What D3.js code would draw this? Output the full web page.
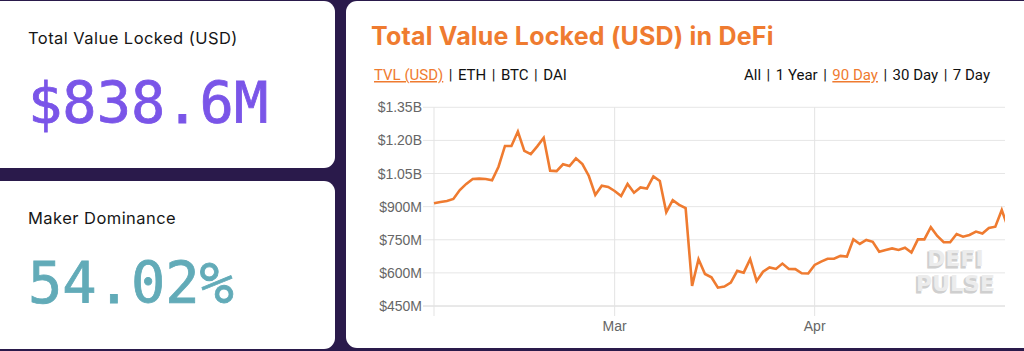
<!DOCTYPE html>
<html><head><meta charset="utf-8">
<script src="https://cdn.jsdelivr.net/npm/d3@7"></script>
<style>
html,body{margin:0;padding:0;background:#2a1a4b;}
svg{display:block;}
</style></head>
<body>
<svg id="c" width="1024" height="351"></svg>
<script>
// ---- data ----
const startDate = "2020-02-02";
const tvlValues = [915,921,926,935,975,1003,1025,1027,1025,1019,
  1081,1175,1175,1240,1153,1138,1173,1212,1063,1061,
  1092,1084,1119,1093,1039,953,995,989,971,948,
  1003,963,987,982,1037,1016,875,929,908,893,
  541,662,595,580,533,538,556,609,601,662,
  563,605,625,618,642,618,617,598,597,636,
  651,664,664,677,674,752,731,749,741,696,
  704,711,704,714,692,752,752,807,767,739,
  739,776,764,772,787,778,803,809,885,803];
const yTicks = [450,600,750,900,1050,1200,1350];
const yTickLabels = ["$450M","$600M","$750M","$900M","$1.05B","$1.20B","$1.35B"];
const xTickDates = ["2020-03-01","2020-04-01"];
const xTickLabels = ["Mar","Apr"];
const tvlHeadline = "$838.6M";
const makerDominance = "54.02%";
const dataLinks = ["TVL (USD)","ETH","BTC","DAI"];
const rangeLinks = ["All","1 Year","90 Day","30 Day","7 Day"];
const activeLink = "TVL (USD)", activeRange = "90 Day";

const parse = d3.utcParse("%Y-%m-%d");
const d0 = parse(startDate);
const series = tvlValues.map((v,i)=>({date:d3.utcDay.offset(d0,i), v}));

const orange = "#ef7b30";
const svg = d3.select("#c");

// ---- cards ----
svg.append("rect").attr("x",-20).attr("y",1).attr("width",355).attr("height",167).attr("rx",11).attr("fill","#fff");
svg.append("rect").attr("x",-20).attr("y",181).attr("width",355).attr("height",168).attr("rx",11).attr("fill","#fff");
svg.append("rect").attr("x",346).attr("y",1).attr("width",700).attr("height",347).attr("rx",11).attr("fill","#fff");

// left card texts
svg.append("text").attr("x",28).attr("y",44).attr("font-family","Inter, sans-serif").attr("font-size",16.5).attr("letter-spacing",0.45).attr("fill","#161616").text("Total Value Locked (USD)");
svg.append("text").attr("x",28).attr("y",123).attr("font-family","'DejaVu Sans Mono', monospace").attr("font-size",57).attr("fill","#7a55e8").attr("stroke","#7a55e8").attr("stroke-width",0.8).text(tvlHeadline);
svg.append("text").attr("x",28).attr("y",224).attr("font-family","Inter, sans-serif").attr("font-size",16.5).attr("letter-spacing",0.45).attr("fill","#161616").text("Maker Dominance");
svg.append("text").attr("x",28).attr("y",303).attr("font-family","'DejaVu Sans Mono', monospace").attr("font-size",57).attr("fill","#62abb8").attr("stroke","#62abb8").attr("stroke-width",0.8).text(makerDominance);

// title
svg.append("text").attr("x",371).attr("y",45).attr("font-family","Inter, sans-serif").attr("font-weight",700).attr("font-size",25).attr("letter-spacing",0.2).attr("fill",orange).text("Total Value Locked (USD) in DeFi");

// link rows
function linkRow(items, active, x, anchor){
  const t = svg.append("text").attr("x",x).attr("y",80).attr("font-family","Roboto, sans-serif").attr("font-size",15).attr("text-anchor",anchor).attr("fill","#111");
  items.forEach((s,i)=>{
    if(i>0) t.append("tspan").attr("dx",5.5).text("|");
    const sp = t.append("tspan").attr("dx",i>0?5.5:0).text(s);
    if(s===active) sp.attr("fill",orange).attr("text-decoration","underline");
  });
}
linkRow(dataLinks, activeLink, 374, "start");
linkRow(rangeLinks, activeRange, 990, "end");

// ---- chart ----
const L=434, R=1005, T=107.3, B=306;
const x = d3.scaleTime().domain([d0, d3.utcHour.offset(d3.utcDay.offset(d0,88),12)]).range([L,R]);
const y = d3.scaleLinear().domain([450,1350]).range([B,T]);

const g = svg.append("g");
g.selectAll(".hg").data(yTicks).join("line")
  .attr("x1",L-11).attr("x2",R).attr("y1",d=>y(d)).attr("y2",d=>y(d))
  .attr("stroke",d=>d===450?"#d2d2d2":"#e6e6e6").attr("stroke-width",1);
g.selectAll(".yl").data(yTicks).join("text")
  .attr("x",L-12).attr("y",d=>y(d)).attr("dy","0.36em").attr("text-anchor","end")
  .attr("font-family","'Liberation Sans', Arial, sans-serif").attr("font-size",14).attr("fill","#666")
  .text((d,i)=>yTickLabels[i]);
const xt = xTickDates.map(parse);
g.append("line").attr("x1",L).attr("x2",L).attr("y1",T).attr("y2",B+10).attr("stroke","#e3e3e3");
g.selectAll(".vg").data(xt).join("line")
  .attr("x1",d=>x(d)).attr("x2",d=>x(d)).attr("y1",T).attr("y2",B+10)
  .attr("stroke","#e3e3e3");
g.selectAll(".xl").data(xt).join("text")
  .attr("x",d=>x(d)).attr("y",330.5).attr("text-anchor","middle")
  .attr("font-family","'Liberation Sans', Arial, sans-serif").attr("font-size",14).attr("fill","#666")
  .text((d,i)=>xTickLabels[i]);

// watermark
const wm = svg.append("g").attr("font-family","'DejaVu Sans', sans-serif").attr("font-weight",700).attr("text-anchor","middle");
[["DEFI",266],["PULSE",291]].forEach(([s,yy])=>{
  wm.append("text").attr("x",954).attr("y",yy+1.5).attr("font-size",22).attr("fill","#cfcfcf").attr("stroke","#cfcfcf").attr("stroke-width",1).text(s);
  wm.append("text").attr("x",955.5).attr("y",yy).attr("font-size",22).attr("fill","#ececec").text(s);
});

// clip + line
svg.append("clipPath").attr("id","clip").append("rect").attr("x",L-2).attr("y",T-10).attr("width",R-L+2).attr("height",B-T+20);
svg.append("path").datum(series).attr("clip-path","url(#clip)")
  .attr("fill","none").attr("stroke",orange).attr("stroke-width",2.6).attr("stroke-linejoin","miter")
  .attr("d",d3.line().x(d=>x(d.date)).y(d=>y(d.v)));
</script>
</body></html>
